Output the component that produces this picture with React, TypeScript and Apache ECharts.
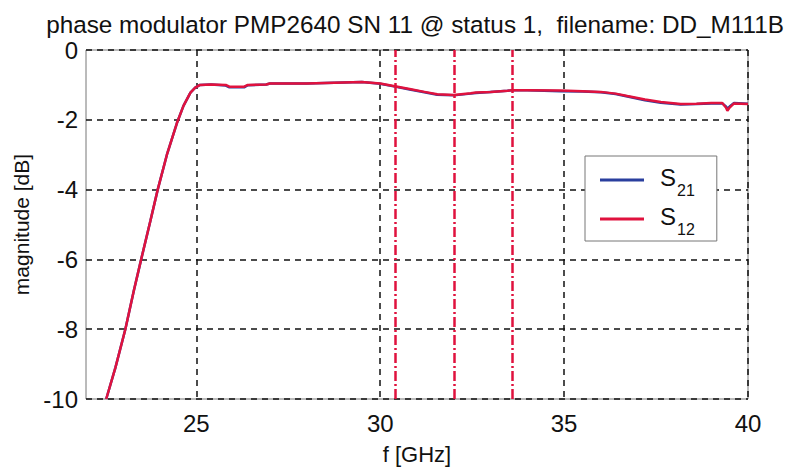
import React, { useEffect, useRef } from "react";
import * as echarts from "echarts";

const titleText = "phase modulator PMP2640 SN 11 @ status 1,  filename: DD_M111B";
const xTicks = [25, 30, 35, 40];
const markerFreqs = [30.4, 32.0, 33.6];

const s12: [number, number][] = [
  [22.55, -10], [22.8, -9.1], [23.07, -8], [23.3, -6.9], [23.5, -6], [23.75, -4.9],
  [23.95, -4], [24.2, -3], [24.47, -2.1], [24.65, -1.6], [24.84, -1.22], [24.97, -1.08],
  [25.1, -1.0], [25.4, -0.99], [25.8, -1.0], [25.9, -1.05], [26.3, -1.05], [26.4, -1.0],
  [26.9, -0.99], [27.0, -0.96], [28.0, -0.96], [29.0, -0.93], [29.5, -0.92], [30.0, -0.96],
  [30.4, -1.04], [30.8, -1.12], [31.2, -1.2], [31.55, -1.27], [32.0, -1.29], [32.46, -1.24],
  [32.6, -1.22], [33.0, -1.2], [33.46, -1.17], [33.6, -1.15], [34.0, -1.15], [34.9, -1.16],
  [35.5, -1.18], [36.0, -1.2], [36.4, -1.25], [36.72, -1.32], [37.2, -1.42], [37.63, -1.49],
  [38.17, -1.55], [38.6, -1.54], [39.0, -1.52], [39.3, -1.52], [39.4, -1.65], [39.44, -1.74],
  [39.5, -1.65], [39.62, -1.53], [40, -1.55],
];

const s21: [number, number][] = [
  [22.55, -10], [22.8, -9.1], [23.07, -8], [23.3, -6.9], [23.5, -6], [23.75, -4.9],
  [23.95, -4], [24.2, -3], [24.47, -2.1], [24.65, -1.6], [24.84, -1.22], [24.97, -1.08],
  [25.1, -1.0], [25.4, -0.99], [25.8, -1.02], [25.9, -1.07], [26.3, -1.07], [26.4, -1.01],
  [26.9, -0.99], [27.0, -0.96], [28.0, -0.96], [29.0, -0.93], [29.5, -0.92], [30.0, -0.97],
  [30.4, -1.05], [30.8, -1.13], [31.2, -1.21], [31.55, -1.28], [32.0, -1.3], [32.46, -1.25],
  [32.6, -1.23], [33.0, -1.2], [33.46, -1.17], [33.6, -1.15], [34.0, -1.15], [34.9, -1.18],
  [35.5, -1.19], [36.0, -1.21], [36.4, -1.26], [36.72, -1.33], [37.2, -1.44], [37.63, -1.51],
  [38.17, -1.56], [38.6, -1.55], [39.0, -1.53], [39.3, -1.53], [39.4, -1.62], [39.44, -1.68],
  [39.5, -1.62], [39.62, -1.52], [40, -1.54],
];

const FONT = "Liberation Sans, Arial, sans-serif";

export default function App() {
  const ref = useRef<HTMLDivElement>(null);
  useEffect(() => {
    if (!ref.current) return;
    const chart = echarts.init(ref.current, null, { renderer: "svg" });
    const dash = [6, 5];
    chart.setOption({
      animation: false,
      backgroundColor: "#ffffff",
      textStyle: { fontFamily: FONT },
      title: {
        text: titleText,
        left: 410,
        textAlign: "center",
        top: 7,
        textStyle: { fontFamily: FONT, fontSize: 24.3, fontWeight: "normal", color: "#111" },
      },
      grid: {
        left: 86, right: 44, top: 50, bottom: 66,
        show: true, borderColor: "#777", borderWidth: 1, backgroundColor: "transparent",
        containLabel: false,
      },
      legend: {
        show: true,
        orient: "vertical",
        left: 585,
        top: 156,
        padding: [6, 22, 4, 15],
        itemGap: 3,
        itemWidth: 44,
        itemHeight: 3,
        icon: "rect",
        backgroundColor: "#fff",
        borderColor: "#777",
        borderWidth: 1,
        borderRadius: 0,
        data: ["S21", "S12"],
        formatter: (name: string) => `{s|S}{sub|${name.slice(1)}}`,
        textStyle: {
          fontFamily: FONT,
          color: "#111",
          rich: {
            s: { fontSize: 24, fontFamily: FONT, color: "#111", padding: [3, 0, 0, 11], lineHeight: 36, verticalAlign: "top" },
            sub: { fontSize: 16, fontFamily: FONT, color: "#111", lineHeight: 16, padding: [0, 0, 0, 1], verticalAlign: "bottom" },
          },
        },
      },
      xAxis: {
        type: "value",
        min: 22,
        max: 40,
        name: "f [GHz]",
        nameLocation: "middle",
        nameGap: 44,
        nameTextStyle: { fontFamily: FONT, fontSize: 22, color: "#111" },
        axisLine: { show: false },
        axisTick: { show: false, customValues: xTicks },
        axisLabel: { customValues: xTicks, fontFamily: FONT, fontSize: 24, color: "#111", margin: 12 },
        splitLine: { show: true, lineStyle: { color: "#111", type: dash, width: 1.5 } },
      },
      yAxis: {
        type: "value",
        min: -10,
        max: 0,
        interval: 2,
        name: "magnitude [dB]",
        nameLocation: "middle",
        nameGap: 47,
        nameTextStyle: { fontFamily: FONT, fontSize: 21, color: "#111" },
        axisLine: { show: false },
        axisTick: { show: false },
        axisLabel: { fontFamily: FONT, fontSize: 24, color: "#111", margin: 8 },
        splitLine: { show: true, lineStyle: { color: "#111", type: dash, width: 1.5 } },
      },
      series: [
        {
          name: "S21",
          type: "line",
          data: s21,
          showSymbol: false,
          symbol: "none",
          color: "#2a3f9e",
          lineStyle: { color: "#2a3f9e", width: 2.5 },
          z: 3,
        },
        {
          name: "S12",
          type: "line",
          data: s12,
          showSymbol: false,
          symbol: "none",
          color: "#e0123e",
          lineStyle: { color: "#e0123e", width: 2.5 },
          z: 4,
          markLine: {
            silent: true,
            symbol: "none",
            label: { show: false },
            lineStyle: { color: "#e0123e", width: 2.5, type: [10, 3, 2, 3] },
            data: markerFreqs.map((f) => ({ xAxis: f })),
          },
        },
      ],
    });
    return () => chart.dispose();
  }, []);
  return <div ref={ref} style={{ position: "absolute", left: 0, top: 0, width: 792, height: 470 }} />;
}
